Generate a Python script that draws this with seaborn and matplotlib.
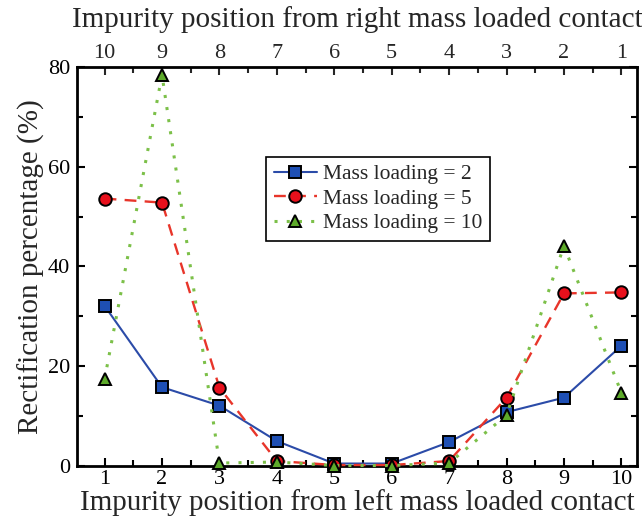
import matplotlib
matplotlib.use("Agg")
import matplotlib.pyplot as plt
import seaborn as sns
import pandas as pd
from matplotlib.ticker import MultipleLocator

positions = [1, 2, 3, 4, 5, 6, 7, 8, 9, 10]
top_labels = ["10", "9", "8", "7", "6", "5", "4", "3", "2", "1"]
ml2 = [32.1, 15.8, 12.1, 5.0, 0.5, 0.5, 4.8, 10.8, 13.7, 24.1]
ml5 = [53.6, 52.8, 15.7, 1.0, 0.2, 0.2, 1.0, 13.7, 34.6, 34.8]
ml10 = [17.4, 78.4, 0.6, 0.8, 0.1, 0.1, 0.6, 10.2, 44.1, 14.7]
labels = ["Mass loading = 2", "Mass loading = 5", "Mass loading = 10"]

sns.set_style("ticks")
plt.rcParams["font.family"] = ["Liberation Serif", "DejaVu Serif"]
plt.rcParams["xtick.direction"] = "in"
plt.rcParams["ytick.direction"] = "in"

fig = plt.figure(figsize=(6.42, 5.17), dpi=100)
ax = fig.add_axes([0.12, 0.0986, 0.872, 0.772])

styles = [
    dict(y=ml2, color="#2B4BA8", ls="-", marker="s", mfc="#1E4FB4", lw=1.5, ms=8),
    dict(y=ml5, color="#E8352A", ls=(0, (5, 3.5)), marker="o", mfc="#E8101C", lw=1.7, ms=9),
    dict(y=ml10, color="#7CC049", ls=(0, (1, 3)), marker="^", mfc="#5DAA2A", lw=2.2, ms=9),
]
for st, lab in zip(styles, labels):
    df = pd.DataFrame({"pos": positions, "val": st["y"]})
    sns.lineplot(data=df, x="pos", y="val", ax=ax, color=st["color"], linestyle=st["ls"],
                 linewidth=st["lw"], marker=st["marker"], markersize=st["ms"],
                 markerfacecolor=st["mfc"], markeredgecolor="black", markeredgewidth=1.4,
                 label=lab, clip_on=False, zorder=3)

ax.set_xlim(0.52, 10.27)
ax.set_ylim(0, 80)
ax.set_xticks(positions)
ax.set_xticklabels([str(p) for p in positions])
ax.xaxis.set_minor_locator(MultipleLocator(0.5))
ax.yaxis.set_major_locator(MultipleLocator(20))
ax.yaxis.set_minor_locator(MultipleLocator(10))
ax.tick_params(which="both", top=False, right=True, width=1.5, colors="black")
ax.tick_params(which="major", length=6, labelsize=16)
ax.tick_params(axis="x", which="major", pad=3)
ax.tick_params(axis="y", which="major", pad=5)
ax.tick_params(which="minor", length=4)
for sp in ax.spines.values():
    sp.set_linewidth(2.0)
    sp.set_color("black")

ax.set_xlabel("Impurity position from left mass loaded contact", fontsize=21, labelpad=0)
ax.set_ylabel("Rectification percentage (%)", fontsize=21, labelpad=2)

top = ax.secondary_xaxis("top")
top.set_xticks(positions)
top.set_xticklabels(top_labels)
top.xaxis.set_minor_locator(MultipleLocator(0.5))
top.tick_params(which="both", direction="in", width=1.5)
top.tick_params(which="major", length=6, labelsize=16, pad=3)
top.tick_params(which="minor", length=4)
top.set_xlabel("Impurity position from right mass loaded contact", fontsize=21, labelpad=12)

leg = ax.legend(loc="upper left", bbox_to_anchor=(0.338, 0.775), fontsize=15.5,
                frameon=True, fancybox=False, edgecolor="black", framealpha=1,
                handlelength=2.0, handletextpad=0.3, borderpad=0.35, labelspacing=0.2,
                borderaxespad=0)
leg.get_frame().set_linewidth(1.2)

fig.savefig("out.png", dpi=100)
